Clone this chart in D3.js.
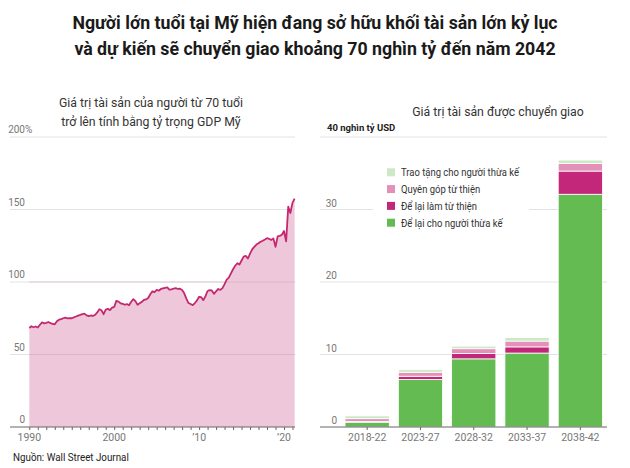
<!DOCTYPE html>
<html><head><meta charset="utf-8">
<script src="https://cdn.jsdelivr.net/npm/d3@7"></script>
<style>
body{margin:0;background:#fff}
svg{display:block}
text{font-family:Roboto,"Noto Sans",sans-serif}
</style>
</head><body>
<svg id="chart" width="630" height="468"></svg>
<script>
// ---------- DATA ----------
const titleLines = ["Người lớn tuổi tại Mỹ hiện đang sở hữu khối tài sản lớn kỷ lục",
                    "và dự kiến sẽ chuyển giao khoảng 70 nghìn tỷ đến năm 2042"];
const leftSubtitle = ["Giá trị tài sản của người từ 70 tuổi", "trở lên tính bằng tỷ trọng GDP Mỹ"];
const rightSubtitle = "Giá trị tài sản được chuyển giao";
const sourceText = "Nguồn: Wall Street Journal";

// quarterly, 1990 Q1 .. 2021 Q2 (% of GDP)
const startYear = 1990;
const wealthShare = [
  68.3, 69.5, 68.8, 69.3,   // 1990
  68.6, 70.5, 72.2, 71.5,   // 1991
  71.8, 72.4, 71.6, 71.2,   // 1992
  70.8, 72.9, 74.0, 74.4,   // 1993
  75.0, 75.4, 74.9, 75.1,   // 1994
  75.0, 75.6, 76.2, 76.8,   // 1995
  77.3, 77.9, 78.2, 77.0,   // 1996
  76.5, 76.9, 76.6, 77.4,   // 1997
  79.0, 81.2, 80.5, 77.8,   // 1998
  81.0, 81.5, 80.6, 82.3,   // 1999
  82.8, 87.0, 86.5, 85.3,   // 2000
  85.0, 84.3, 84.8, 84.0,   // 2001
  86.4, 88.2, 86.8, 84.3,   // 2002
  85.4, 86.3, 87.6, 88.0,   // 2003
  89.0, 91.5, 93.6, 93.0,   // 2004
  94.5, 94.0, 95.2, 95.6,   // 2005
  96.0, 96.3, 94.8, 94.9,   // 2006
  95.5, 95.8, 95.2, 95.4,   // 2007
  94.5, 92.2, 88.5, 85.5,   // 2008
  84.8, 84.0, 85.5, 87.3,   // 2009
  89.8, 89.5, 87.5, 90.2,   // 2010
  93.8, 94.4, 94.2, 91.8,   // 2011
  93.6, 95.2, 94.6, 95.8,   // 2012
  98.5, 101.6, 103.0, 106.0, // 2013
  108.8, 111.2, 112.9, 112.0, // 2014
  114.8, 117.5, 118.0, 116.2, // 2015
  119.5, 122.5, 124.2, 125.8, // 2016
  126.8, 127.7, 128.5, 129.3, // 2017
  130.2, 129.8, 129.0, 130.1, // 2018
  124.3, 131.4, 131.8, 132.6, // 2019
  135.2, 128.0, 152.0, 147.6, // 2020
  154.6, 157.5               // 2021
];
const leftYTicks = [0, 50, 100, 150, 200];
const leftXTicks = [1990, 2000, 2010, 2020];
const leftXTickLabels = ["1990", "2000", "’10", "’20"];

const periods = ["2018-22", "2023-27", "2028-32", "2033-37", "2038-42"];
const leftToHeirs     = [0.65, 6.55, 9.4, 10.2, 32.1];   // Để lại cho người thừa kế
const leftToCharity   = [0.10, 0.45, 0.75, 0.85, 3.2];   // Để lại làm từ thiện
const giftsToCharity  = [0.40, 0.55, 0.65, 0.80, 1.07];  // Quyên góp từ thiện
const giftsToHeirs    = [0.38, 0.35, 0.35, 0.50, 0.45];  // Trao tặng cho người thừa kế
const seriesKeys   = ["leftToHeirs", "leftToCharity", "giftsToCharity", "giftsToHeirs"];
const seriesLabels = ["Để lại cho người thừa kế", "Để lại làm từ thiện", "Quyên góp từ thiện", "Trao tặng cho người thừa kế"];
const seriesColors = ["#63bb52", "#c2277a", "#e491ba", "#cde8c4"];
const rightYTicks = [0, 10, 20, 30, 40];

// ---------- DRAW ----------
const svg = d3.select("#chart");

// mimic the narrow typeface of the original by compressing glyphs horizontally
function condense(sel, factor) {
  sel.each(function() {
    const len = this.getComputedTextLength();
    d3.select(this).attr("textLength", len * factor).attr("lengthAdjust", "spacingAndGlyphs");
  });
}

// title
svg.append("g").selectAll("text").data(titleLines).join("text")
  .attr("x", 315).attr("y", (d, i) => 29 + i * 26)
  .attr("text-anchor", "middle")
  .attr("font-size", 18).attr("font-weight", 700).attr("fill", "#1a1a1a")
  .text(d => d)
  .call(condense, 0.985);

// ===== LEFT CHART =====
const xL = d3.scaleLinear().domain([1990, 2020]).range([29.3, 284]);
const yL = d3.scaleLinear().domain([0, 200]).range([427, 137]);

svg.append("g").selectAll("text").data(leftSubtitle).join("text")
  .attr("x", 151).attr("y", (d, i) => 107 + i * 19)
  .attr("text-anchor", "middle").attr("font-size", 12.5).attr("fill", "#333")
  .text(d => d)
  .call(condense, 0.98);

const gL = svg.append("g");
gL.selectAll("line.grid").data(leftYTicks.filter(d => d > 0)).join("line")
  .attr("class", "grid")
  .attr("x1", 10).attr("x2", 295)
  .attr("y1", d => yL(d)).attr("y2", d => yL(d))
  .attr("stroke", "#e2e2e2").attr("stroke-width", 1);

const pts = wealthShare.map((v, i) => ({t: startYear + i / 4, v}));
gL.append("path").datum(pts)
  .attr("d", d3.area().x(d => xL(d.t)).y0(yL(0)).y1(d => yL(d.v)))
  .attr("fill", "#eec8da");

// gridlines visible through the area
gL.selectAll("line.grid2").data(leftYTicks.filter(d => d > 0 && d < 150)).join("line")
  .attr("x1", 29.3).attr("x2", 295)
  .attr("y1", d => yL(d)).attr("y2", d => yL(d))
  .attr("stroke", "#b98ea3").attr("stroke-opacity", 0.35).attr("stroke-width", 1);

gL.append("path").datum(pts)
  .attr("d", d3.line().x(d => xL(d.t)).y(d => yL(d.v)))
  .attr("fill", "none").attr("stroke", "#c4296f").attr("stroke-width", 1.8)
  .attr("stroke-linejoin", "round");

gL.selectAll("text.ylab").data(leftYTicks).join("text")
  .attr("x", 25).attr("y", d => yL(d) - 4)
  .attr("text-anchor", "end").attr("font-size", 10).attr("fill", "#777")
  .text(d => d);
gL.append("text").attr("x", 25).attr("y", yL(200) - 4)
  .attr("font-size", 10).attr("fill", "#777").text("%");

// x axis
const axL = d3.axisBottom(xL)
  .tickValues(d3.range(1990, 2022))
  .tickSize(3).tickFormat("");
const axLg = gL.append("g").attr("transform", `translate(0,${yL(0)})`).call(axL);
axLg.select(".domain").remove();
axLg.selectAll(".tick line").attr("stroke", "#666");
gL.append("line").attr("x1", 10).attr("x2", 295).attr("y1", yL(0)).attr("y2", yL(0))
  .attr("stroke", "#666").attr("stroke-width", 1.2);
gL.selectAll("text.xlab").data(leftXTicks).join("text")
  .attr("x", d => xL(d)).attr("y", 441)
  .attr("text-anchor", "middle").attr("font-size", 10.5).attr("fill", "#777")
  .text((d, i) => leftXTickLabels[i]);

svg.append("text").attr("x", 13).attr("y", 461)
  .attr("font-size", 11).attr("fill", "#222").text(sourceText)
  .call(condense, 0.89);

// ===== RIGHT CHART =====
const xR = d3.scaleBand().domain(periods).range([340.5, 607]).paddingInner(0.17).paddingOuter(0.085);
const yR = d3.scaleLinear().domain([0, 40]).range([427, 137]);

svg.append("text").attr("x", 498).attr("y", 116)
  .attr("text-anchor", "middle").attr("font-size", 12.5).attr("fill", "#333")
  .text(rightSubtitle)
  .call(condense, 0.98);

const gR = svg.append("g");
gR.selectAll("line.grid").data(rightYTicks.filter(d => d > 0)).join("line")
  .attr("x1", 320).attr("x2", 607)
  .attr("y1", d => yR(d)).attr("y2", d => yR(d))
  .attr("stroke", "#e2e2e2").attr("stroke-width", 1);

gR.selectAll("text.ylab").data(rightYTicks.filter(d => d < 40)).join("text")
  .attr("x", 337).attr("y", d => yR(d) - 3)
  .attr("text-anchor", "end").attr("font-size", 10).attr("fill", "#777")
  .text(d => d);
gR.append("text").attr("x", 327).attr("y", yR(40) - 6)
  .attr("font-size", 9.5).attr("font-weight", 700).attr("fill", "#222")
  .text("40 nghìn tỷ USD");

const table = periods.map((p, i) => ({
  period: p,
  leftToHeirs: leftToHeirs[i], leftToCharity: leftToCharity[i],
  giftsToCharity: giftsToCharity[i], giftsToHeirs: giftsToHeirs[i]
}));
const stacked = d3.stack().keys(seriesKeys)(table);
gR.selectAll("g.layer").data(stacked).join("g")
  .attr("fill", (d, i) => seriesColors[i])
  .selectAll("rect").data(d => d).join("rect")
  .attr("x", d => xR(d.data.period))
  .attr("width", xR.bandwidth())
  .attr("y", d => yR(d[1]))
  .attr("height", d => yR(d[0]) - yR(d[1]))
  .attr("stroke", "#fff").attr("stroke-width", 0.8);

const axR = d3.axisBottom(xR).tickSize(3).tickPadding(4);
const axRg = gR.append("g").attr("transform", `translate(0,${yR(0)})`).call(axR);
axRg.select(".domain").remove();
axRg.selectAll(".tick line").attr("stroke", "#666");
axRg.selectAll(".tick text").attr("font-size", 10.5).attr("fill", "#777")
  .attr("font-family", "Roboto,'Noto Sans',sans-serif").attr("dy", "0.71em").attr("y", 7);
gR.append("line").attr("x1", 320).attr("x2", 607).attr("y1", yR(0)).attr("y2", yR(0))
  .attr("stroke", "#666").attr("stroke-width", 1.2);

// legend
const lg = gR.append("g");
lg.append("rect").attr("x", 373).attr("y", 161).attr("width", 156).attr("height", 70).attr("fill", "#fff");
const legendOrder = [3, 2, 1, 0];
lg.selectAll("g.item").data(legendOrder).join("g")
  .attr("transform", (d, i) => `translate(387,${172.3 + i * 16.8})`)
  .each(function(k) {
    const g = d3.select(this);
    g.append("rect").attr("x", 0).attr("y", -4).attr("width", 8).attr("height", 8).attr("fill", seriesColors[k]);
    g.append("text").attr("x", 14).attr("y", 3.8).attr("font-size", 10.5).attr("fill", "#333")
      .text(seriesLabels[k]).call(condense, 0.9);
  });
</script>
</body></html>
